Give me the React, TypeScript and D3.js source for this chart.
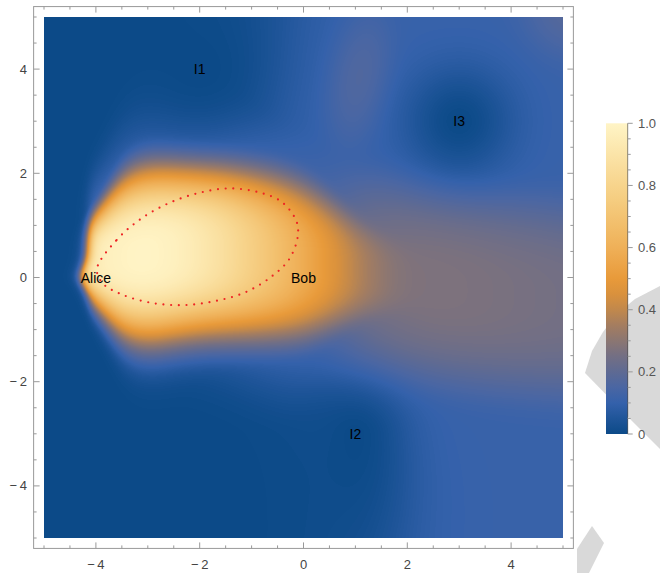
import React, { useMemo } from "react";
import * as d3 from "d3";

// ---- values (data units) ----
const people = [
  { name: "Alice", x: -4, y: 0 },
  { name: "Bob", x: 0, y: 0 },
];
const intruders = [
  { name: "I1", x: -2, y: 4 },
  { name: "I2", x: 1, y: -3 },
  { name: "I3", x: 3, y: 3 },
];
// radius of the dark hole around each intruder (side, above, below)
const holeSide = [1.1, 0.95, 1.05];
const holeUp = [1.1, 0.9, 1.05];
const holeDown = [1.1, 2.2, 1.05];

// bright lobe from Alice to just past Bob, sampled every 0.5 from x = -4.5 to 3
const ridgeX = d3.range(-4.5, 3.001, 0.5);
const ridgePeak = [0.9, 0.96, 0.99, 1.0, 0.98, 0.93, 0.86, 0.77, 0.68, 0.58, 0.48, 0.38, 0.3, 0.22, 0.15, 0.1];
const ridgeMidY = [0.3, 0.35, 0.4, 0.44, 0.48, 0.5, 0.49, 0.45, 0.4, 0.33, 0.25, 0.15, 0.07, 0, -0.05, -0.1];
const ridgeWidth = [0.5, 0.9, 1.55, 1.7, 1.67, 1.65, 1.65, 1.65, 1.64, 1.6, 1.45, 1.25, 1.1, 1.0, 1.0, 1.0];

// grey tail to the right of Bob, sampled every 1 from x = -1 to 5
const tailX = d3.range(-1, 5.001, 1);
const tailLevel = [0, 0.1, 0.24, 0.27, 0.27, 0.26, 0.25];
const tailMidY = [0.3, 0.25, 0.15, -0.05, -0.2, -0.35, -0.45];
const tailWidth = 2.3;

// faint blue halo around the lobe, sampled every 1 from x = -5 to 5
const haloX = d3.range(-5, 5.001, 1);
const haloAbove = [0.6, 0.7, 0.9, 1.0, 1.1, 1.2, 1.3, 1.3, 1.2, 1.2, 1.2];
const haloBelow = [0.1, 0.15, 0.25, 0.45, 0.75, 1.0, 1.1, 1.1, 1.1, 1.1, 1.1];
const haloLevel = 0.14;

// blue background on the right, its left edge moves with height (y = -5 .. 5)
const backgroundLevel = 0.11;
const backgroundY = d3.range(-5, 5.001, 1);
const backgroundEdgeX = [1.5, 1.5, 1.2, 0.2, -0.8, -0.8, -0.8, -0.8, -0.8, -0.6, -0.4];
const aliceEdgeX = -4.15;

// extra grey-blue lobes: centre, spread along / across, angle (deg), level
const lobeX = [1.1, 5.2];
const lobeY = [3.8, 5.2];
const lobeAlong = [2.2, 1.6];
const lobeAcross = [1.0, 1.6];
const lobeAngle = [80, 0];
const lobeLevel = [0.165, 0.18];

// dotted red curve around the bright region
const contour = [
  [-3.98, 0.16], [-3.6, 0.72], [-3.14, 1.12], [-2.61, 1.42], [-2.03, 1.62],
  [-1.43, 1.71], [-0.84, 1.63], [-0.42, 1.45], [-0.14, 1.09], [-0.11, 0.79],
  [-0.27, 0.36], [-0.6, 0.03], [-1.11, -0.28], [-1.69, -0.45], [-2.3, -0.53],
  [-2.91, -0.49], [-3.49, -0.33], [-3.86, -0.12],
];

const axisTicks = d3.range(-5, 5.001, 0.5);
const axisLabels = [-4, -2, 0, 2, 4];
const legendTicks = d3.range(0, 1.0001, 0.05);
const legendLabels = [0, 0.2, 0.4, 0.6, 0.8, 1.0];

const colorStops = [0, 0.05, 0.1, 0.15, 0.2, 0.25, 0.3, 0.35, 0.4, 0.45, 0.5, 0.6, 0.7, 0.8, 0.9, 1];
const colorValues = [
  "#0c4a88", "#1f5599", "#3461ab", "#4a66a3", "#5e6a93", "#736f84", "#8b7672", "#a47d60",
  "#c1884c", "#d9913d", "#e89a3a", "#efb058", "#f3c372", "#f7d48c", "#fbe4a8", "#fff4c6",
];

const x = d3.scaleLinear().domain([-5, 5]).range([44, 563]);
const y = d3.scaleLinear().domain([-5, 5]).range([538, 17]);
const color = d3.scaleLinear<string>().domain(colorStops).range(colorValues).interpolate(d3.interpolateRgb).clamp(true);

// smooth B-spline profile through evenly spaced samples
const profile = (xs: number[], vs: number[]) => {
  const f = d3.interpolateBasis(vs);
  const s = d3.scaleLinear().domain([xs[0], xs[xs.length - 1]]).range([0, 1]).clamp(true);
  return (v: number) => f(s(v));
};

const peakAt = profile(ridgeX, ridgePeak);
const midAt = profile(ridgeX, ridgeMidY);
const widthAt = profile(ridgeX, ridgeWidth);
const tailAt = profile(tailX, tailLevel);
const tailMidAt = profile(tailX, tailMidY);
const aboveAt = profile(haloX, haloAbove);
const belowAt = profile(haloX, haloBelow);
const bgEdgeAt = profile(backgroundY, backgroundEdgeX);

function field(px: number, py: number) {
  const dy = py - midAt(px);
  const w = Math.max(0.05, widthAt(px));
  const t = Math.abs(dy / w);
  const blob = peakAt(px) * Math.exp(-Math.pow(t, 3.2));
  const hw = w + (dy > 0 ? aboveAt(px) : belowAt(px));
  const th = dy / hw;
  const halo = haloLevel * Math.exp(-(th * th * th * th));
  const tt = Math.abs((py - tailMidAt(px)) / tailWidth);
  const tail = Math.max(0, tailAt(px)) * Math.exp(-(tt * tt * tt));
  const bg = backgroundLevel / (1 + Math.exp(-(px - bgEdgeAt(py)) / 0.55));
  let lobe = 0;
  lobeX.forEach((lx, i) => {
    const a = (lobeAngle[i] * Math.PI) / 180;
    const ddx = px - lx, ddy = py - lobeY[i];
    const u = (ddx * Math.cos(a) + ddy * Math.sin(a)) / lobeAlong[i];
    const v = (-ddx * Math.sin(a) + ddy * Math.cos(a)) / lobeAcross[i];
    lobe = Math.max(lobe, lobeLevel[i] * Math.exp(-(u * u + v * v)));
  });
  // soft maximum keeps the joins smooth
  const parts = [blob, tail, halo, bg, lobe];
  let val = Math.pow(d3.sum(parts, (p) => Math.pow(p, 6)), 1 / 6);
  intruders.forEach((p, i) => {
    const ddx = (px - p.x) / holeSide[i];
    const ddy = (py - p.y) / (py > p.y ? holeUp[i] : holeDown[i]);
    val *= 1 - Math.exp(-(ddx * ddx + ddy * ddy));
  });
  const edge = aliceEdgeX - 0.12 * Math.exp(-((py / 0.3) ** 2));
  val *= 1 / (1 + Math.exp(-(px - edge) / 0.06));
  return Math.min(1, Math.max(0, val));
}

function useDensityImage() {
  return useMemo(() => {
    const [x0, x1] = x.range();
    const [y1, y0] = y.range();
    const w = Math.round(x1 - x0);
    const h = Math.round(y1 - y0);
    const lut = d3.range(256).map((i) => d3.rgb(color(i / 255)));
    const canvas = document.createElement("canvas");
    canvas.width = w;
    canvas.height = h;
    const ctx = canvas.getContext("2d")!;
    const img = ctx.createImageData(w, h);
    for (let j = 0; j < h; j++) {
      const dy = y.invert(y0 + j + 0.5);
      for (let i = 0; i < w; i++) {
        const dx = x.invert(x0 + i + 0.5);
        const c = lut[Math.round(field(dx, dy) * 255)];
        const k = (j * w + i) * 4;
        img.data[k] = c.r;
        img.data[k + 1] = c.g;
        img.data[k + 2] = c.b;
        img.data[k + 3] = 255;
      }
    }
    ctx.putImageData(img, 0, 0);
    return { href: canvas.toDataURL(), x: x0, y: y0, w, h };
  }, []);
}

const fmt = (v: number) => (v < 0 ? `\u2212\u2009${-v}` : `${v}`);

export default function App() {
  const img = useDensityImage();
  const fl = x(-5.2), fr = x(5.2), ft = y(5.2), fb = y(-5.2);
  const isMajor = (v: number) => axisLabels.includes(v);

  const line = d3
    .line<number[]>()
    .x((d) => x(d[0]))
    .y((d) => y(d[1]))
    .curve(d3.curveCatmullRomClosed);

  const cb = d3.scaleLinear().domain([0, 1]).range([434, 123.3]);
  const cbX = 606, cbW = 21.7;
  const grad = d3.range(0, 1.0001, 0.05);

  return (
    <svg
      width={660}
      height={573}
      style={{ position: "absolute", left: 0, top: 0 }}
      fontFamily="'Liberation Sans', Arial, sans-serif"
    >
      <defs>
        <linearGradient id="cbar" x1="0" y1="1" x2="0" y2="0">
          {grad.map((t) => (
            <stop key={t} offset={`${t * 100}%`} stopColor={color(t)} />
          ))}
        </linearGradient>
      </defs>

      {/* grey marks on the right */}
      <polygon points="585,373 592,351 603,332 617,314 635,299 660,286 660,449 632,421" fill="#d9d9d9" />
      <polygon points="592,526 604,543 589,573 577,573 577,549" fill="#d9d9d9" />

      <image href={img.href} x={img.x} y={img.y} width={img.w} height={img.h} preserveAspectRatio="none" />

      <path
        d={line(contour) ?? ""}
        fill="none"
        stroke="#ee2424"
        strokeWidth={2.2}
        strokeDasharray="0 7.7"
        strokeLinecap="round"
      />

      {[...people, ...intruders].map((p) => (
        <text key={p.name} x={x(p.x)} y={y(p.y) + 5} fontSize={14} textAnchor="middle" fill="#000">
          {p.name}
        </text>
      ))}

      <rect x={fl} y={ft} width={fr - fl} height={fb - ft} fill="none" stroke="#999" strokeWidth={1} />
      <g stroke="#999" strokeWidth={1}>
        {axisTicks.map((v) => {
          const len = isMajor(v) ? 6 : 3;
          return (
            <g key={v}>
              <line x1={x(v)} x2={x(v)} y1={fb} y2={fb - len} />
              <line x1={x(v)} x2={x(v)} y1={ft} y2={ft + len} />
              <line x1={fl} x2={fl + len} y1={y(v)} y2={y(v)} />
              <line x1={fr} x2={fr - len} y1={y(v)} y2={y(v)} />
            </g>
          );
        })}
      </g>
      <g fontSize={13} fill="#444">
        {axisLabels.map((v) => (
          <text key={`x${v}`} x={x(v)} y={569} textAnchor="middle">
            {fmt(v)}
          </text>
        ))}
        {axisLabels.map((v) => (
          <text key={`y${v}`} x={27} y={y(v) + 4.5} textAnchor="end">
            {fmt(v)}
          </text>
        ))}
      </g>

      <rect x={cbX} y={cb(1)} width={cbW} height={cb(0) - cb(1)} fill="url(#cbar)" />
      <line x1={cbX + cbW} x2={cbX + cbW} y1={cb(1)} y2={cb(0)} stroke="rgba(0,0,0,0.45)" strokeWidth={1} />
      <g stroke="#999" strokeWidth={1}>
        {legendTicks.map((t, i) => (
          <line key={i} x1={cbX + cbW} x2={cbX + cbW + (i % 4 === 0 ? 5 : 3)} y1={cb(t)} y2={cb(t)} />
        ))}
      </g>
      <g fontSize={13} fill="#555">
        {legendLabels.map((t) => (
          <text key={t} x={638} y={cb(t) + 4.5}>
            {t === 0 ? "0" : t.toFixed(1)}
          </text>
        ))}
      </g>
    </svg>
  );
}
